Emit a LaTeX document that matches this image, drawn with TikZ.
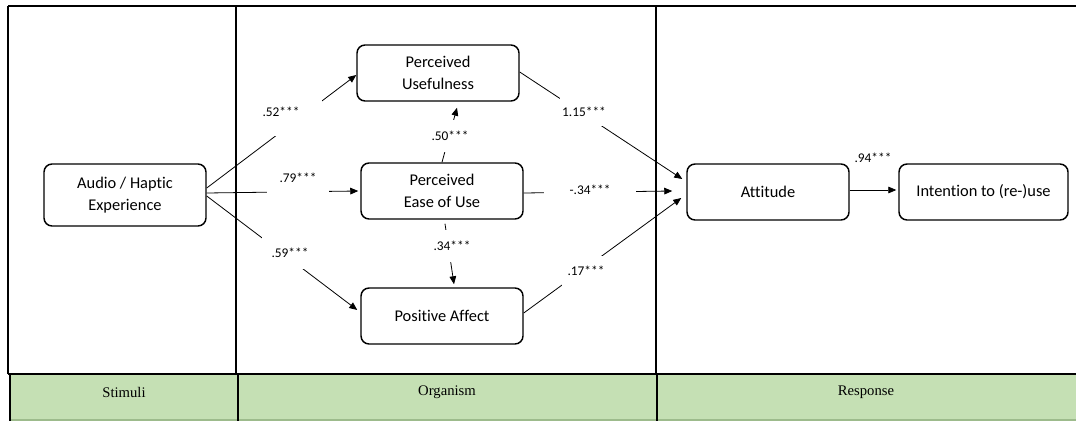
\documentclass[tikz,border=0pt]{standalone}
\usepackage{fontspec}
\setmainfont{Carlito}[Ligatures=NoCommon]
\newfontfamily\bandfont{Liberation Serif}
\usetikzlibrary{arrows.meta}

\definecolor{bandgreen}{HTML}{C5E0B4}
\definecolor{bandedge}{HTML}{9DBB8C}

\begin{document}
\begin{tikzpicture}[x=0.75pt, y=-0.75pt,
	box/.style = {draw, rounded corners=6pt, line width=1.1pt, minimum width=121.5pt, minimum height=42pt, inner sep=0pt, align=center, font=\fontsize{12.3}{16}\selectfont},
	coef/.style = {fill=white, inner sep=0pt, font=\fontsize{10}{12}\selectfont},
	arr/.style = {-{Triangle[length=6pt,width=5pt]}, line width=0.6pt},
	band/.style = {font=\bandfont\fontsize{11}{13}\selectfont}]
		\useasboundingbox (0,0) rectangle (1076,421);
		%Kehys
		\fill[bandgreen] (10,374) rectangle (1076,420);
		\draw[bandedge, line width=0.8pt] (10,420) -- (1076,420);
		\draw[line width=1.5pt] (8,6) -- (1076,6);
		\draw[line width=1.5pt] (8,6) -- (8,374);
		\draw[line width=1.2pt] (236,6) -- (236,374);
		\draw[line width=1.2pt] (656,6) -- (656,374);
		\draw[line width=2pt] (8,374) -- (1076,374);
		\draw[line width=2pt] (10,374) -- (10,421);
		\draw[line width=2pt] (238,374) -- (238,421);
		\draw[line width=2pt] (657,374) -- (657,421);
		\node[band] (stim) at (124,392) {Stimuli};
		\node[band] (org) at (447,392) {Organism};
		\node[band] (resp) at (866,392) {Response};
		%Laatikot
		\node[box, minimum height=46.5pt] (ap) at (125,195) {Audio / Haptic\\Experience};
		\node[box] (pu) at (438,73) {Perceived\\Usefulness};
		\node[box] (peou) at (442,191) {Perceived\\Ease of Use};
		\node[box] (pa) at (442,316) {Positive Affect};
		\node[box] (att) at (768,192) {Attitude};
		\node[box, minimum width=126.75pt] (int) at (983.5,192) {Intention to (re-)use};
		% Nuolet
		\draw[arr] ([yshift=5.25pt]ap.east) -- ([yshift=-1.5pt]pu.west);		% AP-PU
		\draw[arr] ([yshift=1.5pt]ap.east) -- ([xshift=-1.5pt]peou.west);		% AP-PEOU
		\draw[arr] ([yshift=-0.75pt]ap.east) -- ([xshift=-2.25pt, yshift=4.5pt]pa.west);	% AP-PA
		\draw[arr] (peou.north) -- ([xshift=14.25pt, yshift=-4.5pt]pu.south);	% PEOU-PU
		\draw[arr] ([xshift=2.25pt, yshift=-3pt]peou.south) -- ([xshift=9pt, yshift=2.25pt]pa.north);	% PEOU-PA
		\draw[arr] ([yshift=0.75pt]pu.east) -- ([xshift=-3pt, yshift=9.75pt]att.west);	% PU-ATT
		\draw[arr] ([yshift=-1.5pt]peou.east) -- ([xshift=-10.5pt, yshift=0.75pt]att.west);	% PEOU-ATT
		\draw[arr] ([yshift=2.25pt]pa.east) -- ([xshift=-3.75pt, yshift=-4.5pt]att.west);	% PA-ATT
		\draw[arr] ([yshift=1.5pt]att.east) -- ([xshift=-1.5pt, yshift=1.5pt]int.west);	% ATT-INT
		% Kertoimet
		\node[coef, minimum width=61.5pt, minimum height=36pt] (c52) at (281,112) {.52***};
		\node[coef, minimum width=46.5pt, minimum height=25.5pt] (c79) at (298,178) {.79***};
		\node[coef, minimum width=42pt, minimum height=24pt] (c59) at (290,253) {.59***};
		\node[coef, minimum width=37.5pt, minimum height=24pt] (c50) at (450,136) {.50***};
		\node[coef, minimum width=37.5pt, minimum height=24pt] (c34) at (452,246) {.34***};
		\node[coef, minimum width=36pt, minimum height=21pt] (c115) at (584,112) {1.15***};
		\node[coef, minimum width=69pt, minimum height=21pt] (cm34) at (590,190) {-.34***};
		\node[coef, minimum width=36pt, minimum height=22.5pt] (c17) at (586,271) {.17***};
		\node[coef] (c94) at (873,158) {.94***};
\end{tikzpicture}
\end{document}
